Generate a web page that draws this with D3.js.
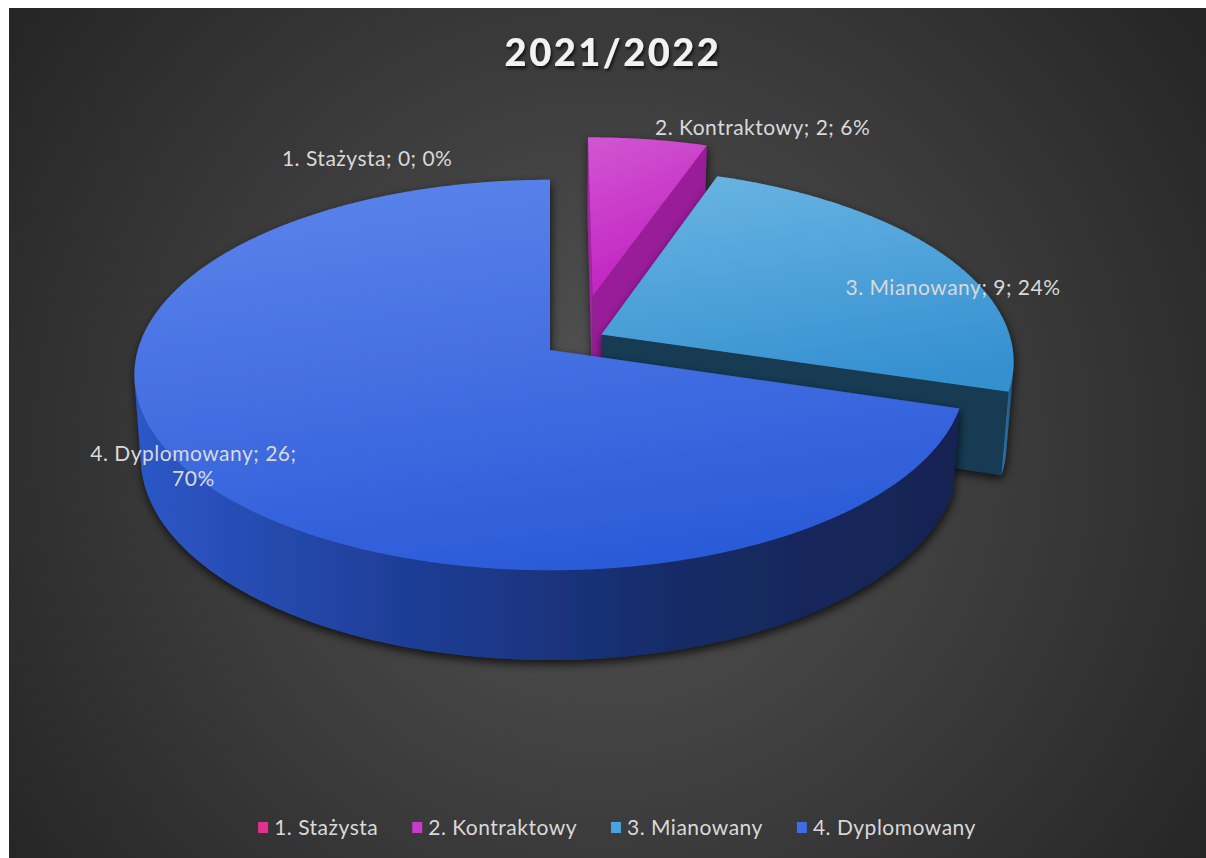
<!DOCTYPE html>
<html><head><meta charset="utf-8">
<script src="https://cdn.jsdelivr.net/npm/d3@7"></script>
<style>html,body{margin:0;padding:0;background:#fff;overflow:hidden}</style>
</head><body><svg id="chart" width="1206" height="858"></svg>
<script>
// ---------- data ----------
const title = "2021/2022";
const categories = ["1. Stażysta", "2. Kontraktowy", "3. Mianowany", "4. Dyplomowany"];
const values = [0, 2, 9, 26];
const percentLabels = ["0%", "6%", "24%", "70%"];

// ---------- style ----------
const legendColors = ["#e4308c", "#c93ac9", "#45a5e0", "#3d6ee8"];
const topStops  = [["#e85aa0","#d0207a"], ["#d052d0","#c01cc0"], ["#66b3e2","#3490d0"], ["#5a82ea","#2a5ad8"]];
const startFace = ["#a8205f", "#a624a6", "#1a4060", "#17306e"];
const endFace   = ["#a8205f", "#991f99", "#173a52", "#17306e"];
const wallStops = [["#b02266","#801850"], ["#a024a0","#801880"], ["#2d75aa","#1f5a85"], ["#2d57c8","#1e3d96","#162b66","#122350"]];
const explode     = [0, 0.31, 0.15, 0];
const explodeTurn = [0, 10.5, -6.0, 0];          // degrees
const labelAt     = [[336, 1.25], [25, 1.18], [74, 0.93], [235, 0.98]]; // [deg, radius] in pie space
const labelWrap   = [false, false, false, true];

const W = 1206, H = 858;
const svg = d3.select("#chart");
const defs = svg.append("defs");

// background
const bg = defs.append("radialGradient").attr("id","bg").attr("gradientUnits","userSpaceOnUse")
  .attr("cx",605).attr("cy",450).attr("r",720);
bg.append("stop").attr("offset","0").attr("stop-color","#555555");
bg.append("stop").attr("offset","1").attr("stop-color","#262626");
svg.append("rect").attr("x",9).attr("y",8).attr("width",W-9).attr("height",H-8).attr("fill","url(#bg)");

// shadow filter
const f = defs.append("filter").attr("id","sh").attr("x","-20%").attr("y","-20%").attr("width","140%").attr("height","150%");
f.append("feDropShadow").attr("dx",1).attr("dy",4).attr("stdDeviation",5).attr("flood-color","#000").attr("flood-opacity",0.75);
const tf = defs.append("filter").attr("id","tsh").attr("x","-10%").attr("y","-20%").attr("width","120%").attr("height","150%");
tf.append("feDropShadow").attr("dx",1.5).attr("dy",2.5).attr("stdDeviation",1.5).attr("flood-color","#000").attr("flood-opacity",0.7);

// gradients per slice
values.forEach((v,i)=>{
  const g = defs.append("linearGradient").attr("id","top"+i).attr("x1",0.3).attr("y1",0).attr("x2",0.6).attr("y2",1);
  g.append("stop").attr("offset",0).attr("stop-color",topStops[i][0]);
  g.append("stop").attr("offset",1).attr("stop-color",topStops[i][1]);
  const w = defs.append("linearGradient").attr("id","wall"+i).attr("x1",0).attr("y1",0).attr("x2",1).attr("y2",0);
  wallStops[i].forEach((c,k,arr)=> w.append("stop").attr("offset",k/(arr.length-1)).attr("stop-color",c));
});

// ---------- projection ----------
const cx = 550, cy = 350, F = 2844, D = 6.9, depth = 0.2276;
const alpha = 27.77 * Math.PI/180, sa = Math.sin(alpha), ca = Math.cos(alpha);
const cam = [0, D*sa, -D*ca];
function P(x, y, z){
  const d = D + z*ca - y*sa;
  const v = y*ca + z*sa;
  return [cx + F*x/d, cy - F*v/d];
}
function facing(pt, n){
  return (cam[0]-pt[0])*n[0] + (cam[1]-pt[1])*n[1] + (cam[2]-pt[2])*n[2] > 0;
}
const line = d3.line().curve(d3.curveLinear);

const arcs = d3.pie().sort(null).value(d=>d).startAngle(0).endAngle(2*Math.PI)(values);

const slices = arcs.map((a,i)=>{
  const mid = (a.startAngle + a.endAngle)/2 + explodeTurn[i]*Math.PI/180;
  const ox = explode[i]*Math.sin(mid), oz = explode[i]*Math.cos(mid);
  const cMid = (a.startAngle + a.endAngle)/2;
  return {i, a0:a.startAngle, a1:a.endAngle, ox, oz, zc: oz + 0.6*Math.cos(cMid)};
});

const pieG = svg.append("g");
slices.filter(s=>s.a1 - s.a0 > 1e-6).sort((p,q)=>q.zc - p.zc).forEach(s=>{
  const {i,a0,a1,ox,oz} = s;
  const g = pieG.append("g").attr("filter","url(#sh)");
  const n = Math.max(2, Math.ceil((a1-a0)/0.005));
  const angs = d3.range(n+1).map(k=> a0 + (a1-a0)*k/n);
  const outer = (a,y)=> P(ox+Math.sin(a), y, oz+Math.cos(a));
  const apexT = P(ox,0,oz), apexB = P(ox,-depth,oz);
  const sc = [ox+0.5*Math.sin(a0), -depth/2, oz+0.5*Math.cos(a0)];
  if (facing(sc, [-Math.cos(a0),0,Math.sin(a0)]))
    g.append("path").attr("d", line([apexT, outer(a0,0), outer(a0,-depth), apexB])+"Z").attr("fill", startFace[i]);
  const ec = [ox+0.5*Math.sin(a1), -depth/2, oz+0.5*Math.cos(a1)];
  if (facing(ec, [Math.cos(a1),0,-Math.sin(a1)]))
    g.append("path").attr("d", line([apexT, outer(a1,0), outer(a1,-depth), apexB])+"Z").attr("fill", endFace[i]);
  const vis = angs.filter(a=> facing([ox+Math.sin(a), -depth/2, oz+Math.cos(a)], [Math.sin(a),0,Math.cos(a)]));
  if (vis.length > 1){
    const pts = vis.map(a=>outer(a,0)).concat(vis.slice().reverse().map(a=>outer(a,-depth)));
    g.append("path").attr("d", line(pts)+"Z").attr("fill","url(#wall"+i+")");
  }
  const tp = [apexT].concat(angs.map(a=>outer(a,0)));
  g.append("path").attr("d", line(tp)+"Z").attr("fill","url(#top"+i+")");
});

// ---------- data labels ----------
const lab = svg.append("g").attr("font-family","Lato, 'Open Sans', sans-serif").attr("font-size",21)
  .attr("letter-spacing",0.5).attr("fill","#d9d9d9").attr("text-anchor","middle");
slices.forEach(s=>{
  const i = s.i;
  const ang = labelAt[i][0]*Math.PI/180, r = labelAt[i][1];
  const [x,y] = P(s.ox + r*Math.sin(ang), 0, s.oz + r*Math.cos(ang));
  const lines = labelWrap[i]
    ? [categories[i]+"; "+values[i]+";", percentLabels[i]]
    : [categories[i]+"; "+values[i]+"; "+percentLabels[i]];
  const t = lab.append("text").attr("x",x).attr("y", y - (lines.length-1)*12 + 7);
  lines.forEach((l,k)=> t.append("tspan").attr("x",x).attr("dy", k===0?0:25).text(l));
});

// ---------- title ----------
svg.append("text").attr("x",613).attr("y",66).attr("text-anchor","middle")
  .attr("font-family","Lato, sans-serif").attr("font-weight",900).attr("font-size",38)
  .attr("letter-spacing",2.5).attr("fill","#f2f2f2").attr("filter","url(#tsh)").text(title);

// ---------- legend ----------
const leg = svg.append("g").attr("font-family","Lato, 'Open Sans', sans-serif").attr("font-size",21)
  .attr("letter-spacing",0.5).attr("fill","#d9d9d9");
let lx = 0; const items = [];
categories.forEach((c,i)=>{
  const it = leg.append("g");
  it.append("rect").attr("x",0).attr("y",-13).attr("width",10).attr("height",11).attr("fill",legendColors[i]);
  const t = it.append("text").attr("x",16).attr("y",0).text(c);
  const w = 16 + t.node().getComputedTextLength();
  items.push({it, x:lx}); lx += w + 34;
});
const total = lx - 34, startX = 617 - total/2;
items.forEach(d=> d.it.attr("transform",`translate(${startX + d.x},835)`));
</script></body></html>
